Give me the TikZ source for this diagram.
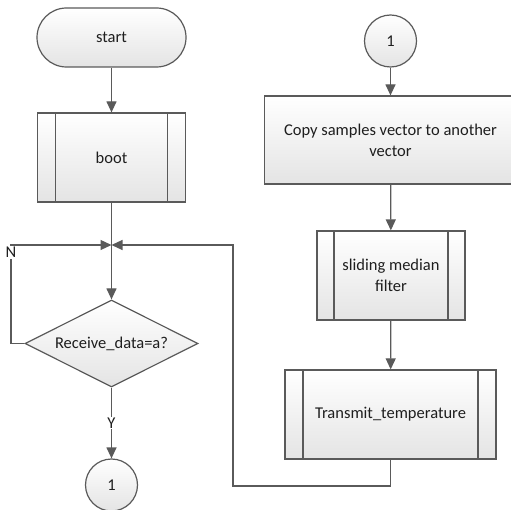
\documentclass[tikz,border=0pt]{standalone}
\usepackage{fontspec}
\setmainfont{Carlito}
\usetikzlibrary{arrows.meta,shapes.geometric,calc}
\definecolor{edge}{HTML}{5A5A5A}
\definecolor{fillbot}{HTML}{E4E4E4}
\definecolor{txt}{HTML}{1E1E1E}
\begin{document}
\begin{tikzpicture}[x=1pt,y=-1pt,
  base/.style={draw=edge,line width=1.2pt,top color=white,bottom color=fillbot,
    inner sep=0pt,font=\fontsize{16.5}{21}\selectfont,text=txt,align=center},
  term/.style={base,rectangle,rounded corners=29.5pt,minimum width=149pt,minimum height=59pt},
  proc/.style={base,rectangle,minimum height=89pt},
  pproc/.style={proc,path picture={
     \draw[edge,line width=1.2pt]
       ([xshift=#1]path picture bounding box.north west) -- ([xshift=#1]path picture bounding box.south west)
       ([xshift=-#1]path picture bounding box.north east) -- ([xshift=-#1]path picture bounding box.south east);}},
  dec/.style={base,diamond,shape aspect=2,minimum width=173pt,minimum height=87pt},
  conn/.style={base,circle,minimum size=52pt},
  flow/.style={draw=edge,line width=1.2pt},
  arr/.style={flow,-{Triangle[length=11pt,width=10pt]}},
  lbl/.style={font=\fontsize{16.5}{18}\selectfont,text=txt,fill=white,inner sep=1pt}
]
\useasboundingbox (0,0) rectangle (511,510);

\node[term] (start) at (111.5,37.5) {start};
\node[pproc=18pt,minimum width=148pt] (boot) at (111.5,157.5) {boot};
\coordinate (m) at (111.5,245);
\node[dec] (dec) at (111.5,343.5) {Receive\_data=a?};
\node[conn] (c1) at (111.5,485) {1};

\node[conn] (c2) at (390.5,41) {1};
\node[proc,minimum width=252pt,minimum height=88pt] (copy) at (390.5,140) {Copy samples vector to another\\vector};
\node[pproc=17pt,minimum width=148pt] (smf) at (391,275.5) {sliding median\\filter};
\node[pproc=18pt,minimum width=211pt] (tr) at (390.5,414.5) {Transmit\_temperature};

\coordinate (lc) at (11,245);
\coordinate (rc) at (233,486);

\draw[arr] (start) -- (boot);
\draw[flow] (boot) -- (m);
\draw[arr] (m) -- (dec);
\draw[arr] (dec.west) -| (lc) -- (m);
\draw[arr] (tr.south) |- (rc) |- (m);
\draw[arr] (dec) -- node[lbl,pos=0.5] {Y} (c1);
\node[lbl,anchor=north] (nlab) at (11,246) {N};

\draw[arr] (c2) -- (copy);
\draw[arr] (copy) -- (smf);
\draw[arr] (smf) -- (tr);
\end{tikzpicture}
\end{document}
